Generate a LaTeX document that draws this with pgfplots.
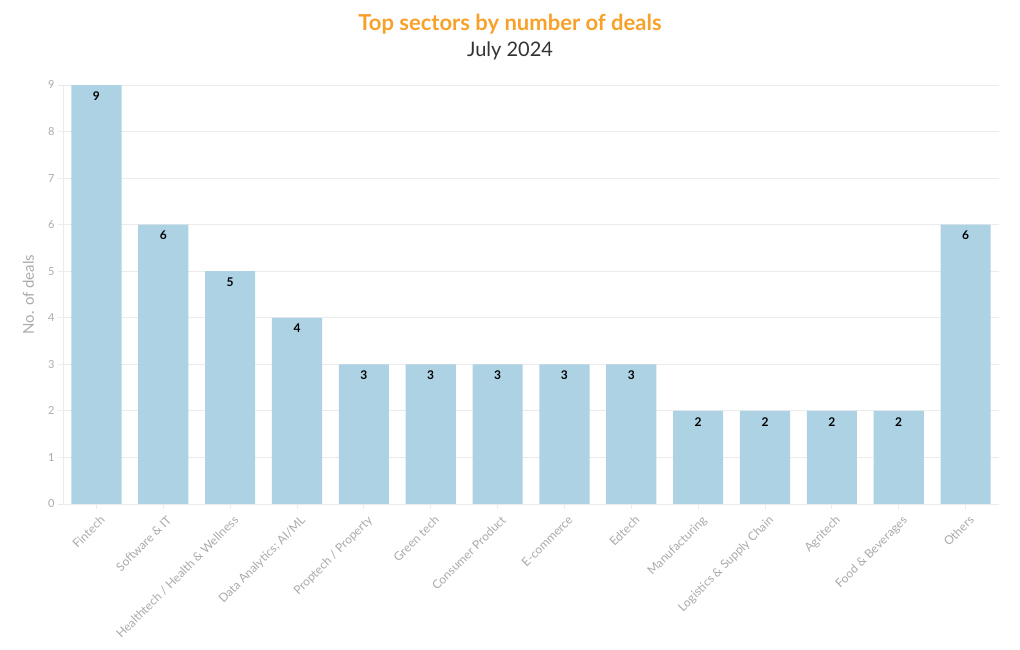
\documentclass[border=0pt]{standalone}
\usepackage{pgfplots}
\pgfplotsset{compat=1.18}
\usepackage{fontspec}
\setmainfont{Lato}
\definecolor{barblue}{HTML}{ADD2E4}
\definecolor{titleorange}{HTML}{F7A12B}
\definecolor{subgrey}{HTML}{333333}
\definecolor{ticklab}{HTML}{AAAAAA}
\definecolor{gridc}{HTML}{EBEBEB}
\begin{document}
\begin{tikzpicture}[x=1pt,y=1pt]
\useasboundingbox (0,0) rectangle (1020,650);
\node[font=\fontsize{22}{26}\selectfont\bfseries, text=titleorange] at (510,626) {Top sectors by number of deals};
\node[font=\fontsize{20}{24}\selectfont, text=subgrey] at (510,599) {July 2024};
\begin{axis}[
  at={(63pt,146pt)}, anchor=south west,
  scale only axis, width=936pt, height=419pt,
  xmin=-0.5, xmax=13.5, ymin=0, ymax=9,
  ybar, bar width=0.75,
  bar shift=0pt,
  xtick=data,
  xticklabels={Fintech, Software \& IT, Healthtech / Health \& Wellness, Data Analytics; AI/ML, Proptech / Property, Green tech, Consumer Product, E-commerce, Edtech, Manufacturing, Logistics \& Supply Chain, Agritech, Food \& Beverages, Others},
  x tick label style={rotate=45, anchor=north east, font=\fontsize{12}{14}\selectfont, text=ticklab, inner sep=1pt, xshift=-1pt, yshift=-5pt},
  ytick={0,1,...,9},
  y tick label style={font=\fontsize{11}{13}\selectfont, text=ticklab},
  /pgf/number format/assume math mode=true,
  ymajorgrids, grid style={gridc, line width=0.8pt},
  axis x line*=bottom, axis y line*=left,
  axis line style={gridc, line width=0.8pt},
  tick style={gridc, line width=0.8pt},
  major tick length=5pt,
  tick align=outside,
  ylabel={No. of deals},
  every axis y label/.style={at={(axis description cs:-0.037,0.5)}, rotate=90, anchor=center, font=\fontsize{15}{17}\selectfont, text=ticklab},
  nodes near coords,
  every node near coord/.append style={anchor=north, yshift=-3pt, font=\fontsize{12}{14}\selectfont\bfseries, text=black},
]
\addplot[fill=barblue, draw=none] coordinates {
(0,9) (1,6) (2,5) (3,4) (4,3) (5,3) (6,3) (7,3) (8,3) (9,2) (10,2) (11,2) (12,2) (13,6)};
\end{axis}
\end{tikzpicture}
\end{document}
